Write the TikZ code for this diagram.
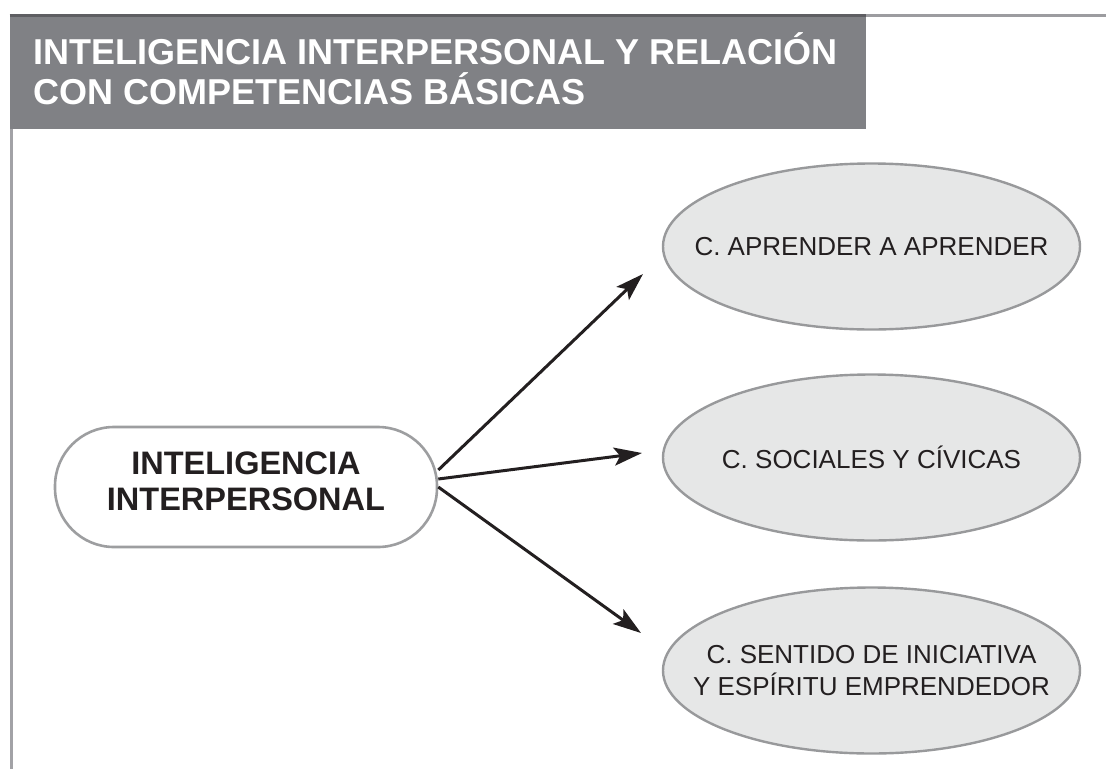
\documentclass[tikz,border=0pt]{standalone}
\usepackage{fontspec}
\setmainfont{Liberation Sans}
\usetikzlibrary{shapes.geometric,arrows.meta}
\definecolor{headgray}{HTML}{808185}
\definecolor{topdark}{HTML}{5E5E62}
\definecolor{toplight}{HTML}{9C9CA0}
\definecolor{leftline}{HTML}{A2A2A6}
\definecolor{pillborder}{HTML}{9D9EA0}
\definecolor{ellfill}{HTML}{E6E7E7}
\definecolor{ellborder}{HTML}{98999B}
\definecolor{inkblack}{HTML}{231F20}
\tikzset{
  headtext/.style={anchor=base west, inner sep=0pt, text=white, font=\fontsize{36}{40}\selectfont\bfseries},
  pillbox/.style={draw=pillborder, line width=2.6pt, fill=white, rounded corners=59pt,
    minimum width=382pt, minimum height=120pt, inner sep=0pt},
  pilltext/.style={inner sep=0pt, align=center, text=inkblack, font=\fontsize{32.5}{36}\selectfont\bfseries},
  compbox/.style={ellipse, draw=ellborder, fill=ellfill, line width=2.4pt,
    minimum width=417pt, minimum height=166pt, inner sep=0pt},
  comptext/.style={inner sep=0pt, align=center, text=inkblack, font=\fontsize{26}{32}\selectfont},
  conn/.style={draw=inkblack, line width=3pt, -{Stealth[length=28pt, width=18pt, inset=6pt]}}
}
\begin{document}
\begin{tikzpicture}[x=1pt, y=-1pt]
\useasboundingbox (0,0) rectangle (1106,769);
% frame lines and header
\fill[headgray] (9.5,15) rectangle (866,129);
\draw[topdark, line width=3pt] (9.5,15.5) -- (866,15.5);
\draw[toplight, line width=3pt] (866,15.5) -- (1106,15.5);
\draw[leftline, line width=3pt] (11,129) -- (11,769);
\node[headtext] (h1) at (33,64.5) {INTELIGENCIA INTERPERSONAL Y RELACIÓN};
\node[headtext] (h2) at (33,104.5) {CON COMPETENCIAS BÁSICAS};
% main node
\node[pillbox, label={[pilltext, yshift=6pt]center:INTELIGENCIA\\INTERPERSONAL}] (pill) at (246,487) {};
% competences
\node[compbox, label={[comptext]center:C. APRENDER A APRENDER}] (c1) at (871.5,246.5) {};
\node[compbox, label={[comptext]center:C. SOCIALES Y CÍVICAS}] (c2) at (871.5,457.5) {};
\node[compbox, label={[comptext]center:C. SENTIDO DE INICIATIVA\\Y ESPÍRITU EMPRENDEDOR}] (c3) at (871.5,670.5) {};
% arrow end points
\coordinate (t1) at (643,274);
\coordinate (t2) at (642,453);
\coordinate (t3) at (641,633);
\draw[conn] ([yshift=17pt]pill.east) -- (t1);
\draw[conn] ([yshift=8pt]pill.east) -- (t2);
\draw[conn] (pill.east) -- (t3);
\end{tikzpicture}
\end{document}
